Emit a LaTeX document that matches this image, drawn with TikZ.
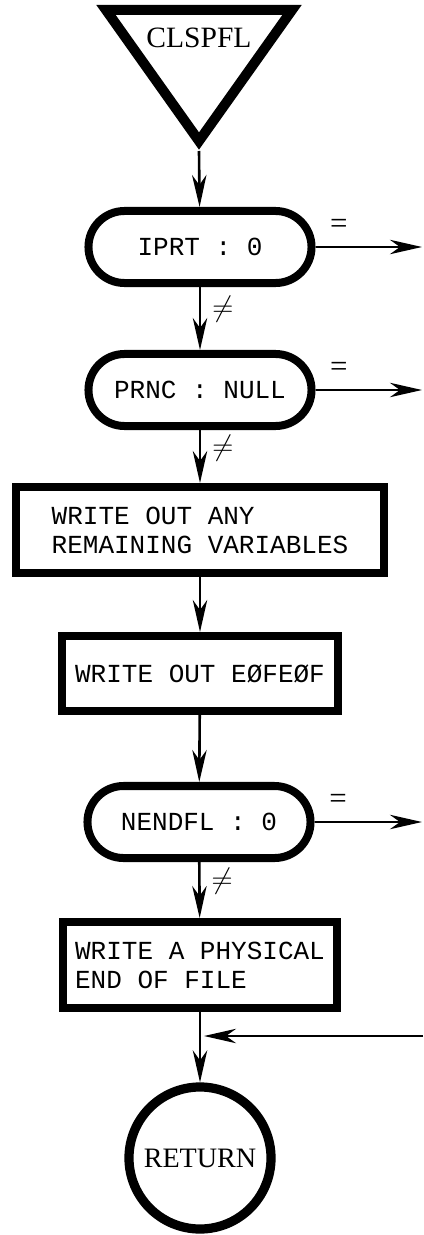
\documentclass[tikz,border=0pt]{standalone}
\usepackage{fontspec}
\setmainfont{Liberation Serif}
\setmonofont{Liberation Mono}
\usetikzlibrary{arrows.meta}

\begin{document}
\begin{tikzpicture}[x=0.025cm,y=-0.025cm]

		\tikzset{test/.style = {draw,line width=0.2cm,rounded corners=0.9cm,minimum width=5.575cm,minimum height=1.8cm,font=\ttfamily\fontsize{18.5}{21}\selectfont}}
		\tikzset{task/.style = {draw,line width=0.2cm,align=left,inner sep=0pt,font=\ttfamily\fontsize{18.5}{20.6}\selectfont}}
		\tikzset{edge/.style = {line width=0.065cm,-{Stealth[length=0.8cm,width=0.36cm,inset=0.25cm]}}}
		\tikzset{eqlabel/.style = {pos=0.22,yshift=0.52cm,font=\fontsize{22}{22}\selectfont}}
		\tikzset{nelabel/.style = {pos=0.35,xshift=0.57cm,font=\fontsize{20}{20}\selectfont}}
		\useasboundingbox (0,0) rectangle (423,1235);
		%entry
		\coordinate (tl) at (106,10);
		\coordinate (tr) at (292,10);
		\coordinate (tip) at (199,151);
		\draw[line width=0.25cm,miter limit=20] (tl) -- (tr) -- (199,141) -- cycle;
		\node[font=\fontsize{21}{24}\selectfont] (entry) at (199,38) {CLSPFL};
		%tests and tasks
		\node[test] (iprt) at (200,247) {IPRT : 0};
		\node[test] (prnc) at (200,390) {PRNC : NULL};
		\node[task,minimum width=9.2cm,minimum height=2.15cm] (rest) at (200,530) {WRITE OUT ANY\\REMAINING VARIABLES};
		\node[task,minimum width=6.9cm,minimum height=1.875cm] (eofeof) at (200,673.5) {WRITE OUT EØFEØF};
		\node[test] (nendfl) at (199,822) {NENDFL : 0};
		\node[task,minimum width=6.825cm,minimum height=2.15cm] (eof) at (200,965) {WRITE A PHYSICAL\\END OF FILE};
		\node[circle,draw,line width=0.23cm,minimum size=3.55cm,font=\fontsize{20}{22}\selectfont] (return) at (200,1158) {RETURN};
		%free ends
		\coordinate (exit1) at (422,247);
		\coordinate (exit2) at (422,390);
		\coordinate (exit3) at (422,822);
		\coordinate (back) at (423,1036);
		\coordinate (join) at (204,1036);
		%edges
		\draw[edge] (tip) to (iprt);
		\draw[edge] (iprt) to node[eqlabel] {=} (exit1);
		\draw[edge] (iprt) to node[nelabel] {$\neq$} (prnc);
		\draw[edge] (prnc) to node[eqlabel] {=} (exit2);
		\draw[edge] (prnc) to node[nelabel] {$\neq$} (rest);
		\draw[edge] (rest) to (eofeof);
		\draw[edge] (eofeof) to (nendfl);
		\draw[edge] (nendfl) to node[eqlabel] {=} (exit3);
		\draw[edge] (nendfl) to node[nelabel] {$\neq$} (eof);
		\draw[edge] (eof) to (return);
		\draw[edge] (back) to (join);
		\end{tikzpicture}
\end{document}
